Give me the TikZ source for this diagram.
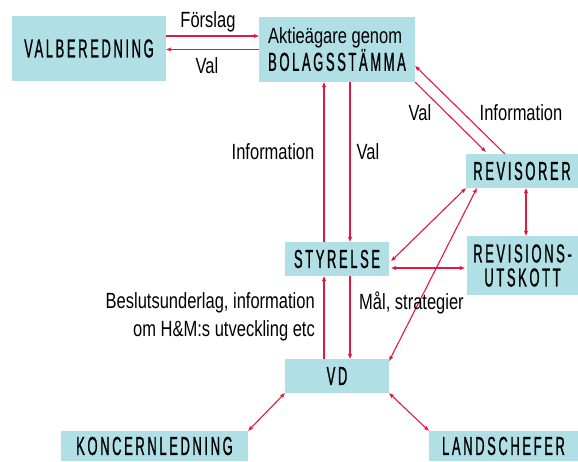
\documentclass[tikz,border=0pt]{standalone}
\usepackage{fontspec}
\setmainfont{Liberation Sans}[FakeStretch=0.75]
\newfontfamily\capsfont{Liberation Sans}[FakeStretch=0.5,LetterSpace=10,FakeBold=0.8]
\usetikzlibrary{arrows.meta,calc}
\definecolor{boxc}{RGB}{176,224,230}
\definecolor{arr}{RGB}{228,24,62}
\begin{document}
\begin{tikzpicture}[x=1pt,y=-1pt,
  box/.style={fill=boxc, inner sep=0pt, align=center, font=\capsfont\fontsize{26}{24}\selectfont},
  lab/.style={inner sep=0pt, font=\fontsize{22}{28}\selectfont},
  con/.style={draw=arr, line width=1.1pt, -{Stealth[length=5pt,width=4pt,inset=1pt]}},
  dcon/.style={draw=arr, line width=1.1pt, {Stealth[length=5pt,width=4pt,inset=1pt]}-{Stealth[length=5pt,width=4pt,inset=1pt]}}]
\useasboundingbox (0,0) rectangle (578,461);
\node[box, minimum width=154pt, minimum height=65pt] (valb) at (89,48.5) {VALBEREDNING};
\node[box, minimum width=156pt, minimum height=65pt, align=left, font=\fontsize{22}{27}\selectfont] (akt) at (337,49.5) {Aktieägare genom\\{\capsfont\fontsize{26}{27}\selectfont BOLAGSSTÄMMA}};
\node[box, minimum width=112pt, minimum height=34pt] (rev) at (522,171) {REVISORER};
\node[box, minimum width=104pt, minimum height=34pt] (styr) at (337,259) {STYRELSE};
\node[box, minimum width=111pt, minimum height=59pt] (revu) at (522.5,265.5) {REVISIONS-\\UTSKOTT};
\node[box, minimum width=104pt, minimum height=34pt] (vd) at (337,376) {VD};
\node[box, minimum width=187pt, minimum height=30pt] (kon) at (154.5,446) {KONCERNLEDNING};
\node[box, minimum width=149pt, minimum height=30pt] (land) at (503.5,446) {LANDSCHEFER};

\draw[con] ([yshift=12.5pt]valb.east) -- ([yshift=12.5pt]valb.east -| akt.west);
\draw[con] (akt.west) -- (akt.west -| valb.east);
\node[lab] (l1) at (208,22) {Förslag};
\node[lab] (l2) at (207,66) {Val};

\draw[con] ([xshift=-13pt]styr.north) -- ([xshift=-13pt]akt.south);
\draw[con] ([xshift=13pt]akt.south) -- ([xshift=13pt]styr.north);
\node[lab] (l3) at (273,152) {Information};
\node[lab] (l4) at (368,152) {Val};

\draw[con] (akt.south east) -- ([xshift=20pt,yshift=2pt]rev.north west);
\draw[con] ([xshift=39pt]rev.north west) -- ([yshift=-16.5pt]akt.east);
\node[lab] (l5) at (420,113) {Val};
\node[lab] (l6) at (521,113) {Information};

\draw[dcon] ([yshift=-2pt,xshift=2pt]styr.east) -- (rev.south west);
\draw[dcon] ([yshift=-2pt]vd.north east) -- ([xshift=11pt]rev.south west);
\draw[dcon] ([xshift=4pt]rev.south) -- ([xshift=3.5pt]revu.north);
\draw[dcon, shorten <=2pt, shorten >=2pt] ([yshift=-9pt]styr.east) -- ([yshift=-9pt]styr.east -| revu.west);

\draw[con] ([xshift=-13pt]vd.north) -- ([xshift=-13pt]styr.south);
\draw[con] ([xshift=13pt]styr.south) -- ([xshift=13pt]vd.north);
\node[lab, anchor=east, align=right] (l7) at (315,317) {Beslutsunderlag, information\\om H\&M:s utveckling etc};
\node[lab, anchor=west] (l8) at (359,303) {Mål, strategier};

\draw[dcon] (vd.south west) -- (kon.north east);
\draw[dcon] (vd.south east) -- (land.north west);
\end{tikzpicture}
\end{document}
